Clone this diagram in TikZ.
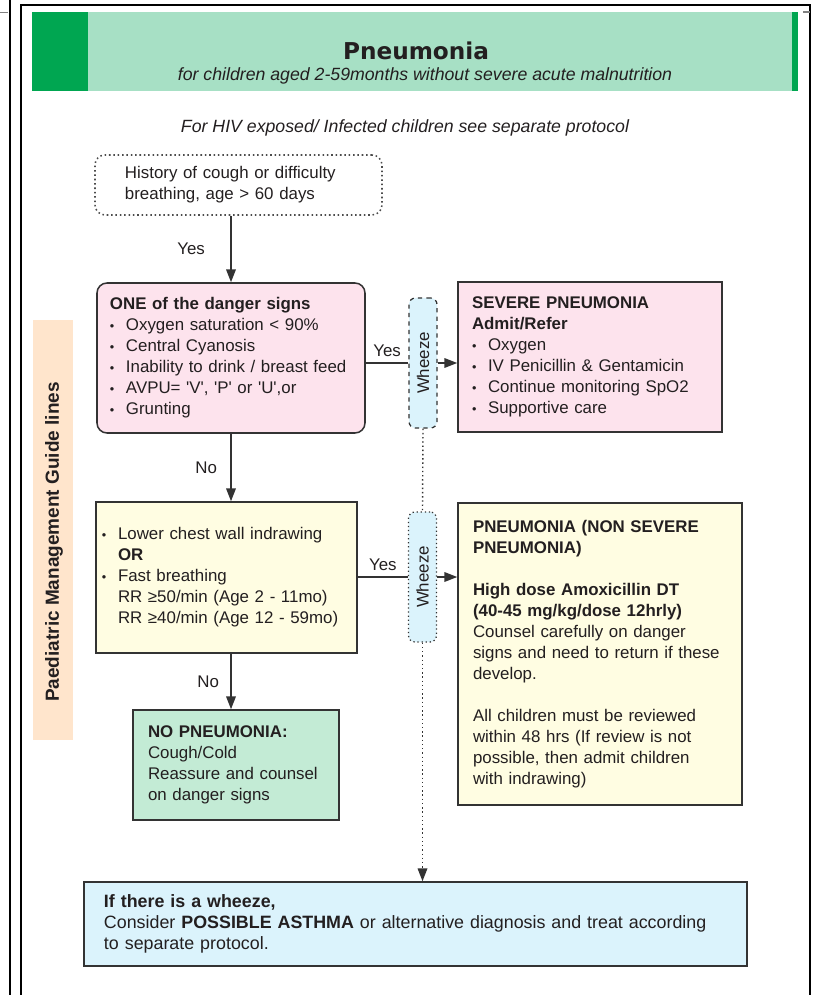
\documentclass[tikz,border=0pt]{standalone}
\usepackage{fontspec}
\setmainfont{Liberation Sans}
\newfontfamily\titlefont{DejaVu Sans}
\usetikzlibrary{arrows.meta}

\definecolor{ink}{HTML}{231F20}
\definecolor{edge}{HTML}{333333}
\definecolor{leafgreen}{HTML}{00A651}
\definecolor{mintband}{HTML}{A7E0C5}
\definecolor{pinkfill}{HTML}{FDE3ED}
\definecolor{creamfill}{HTML}{FFFDE2}
\definecolor{sagefill}{HTML}{C3EBD5}
\definecolor{skyfill}{HTML}{DBF3FC}
\definecolor{peach}{HTML}{FFE5CC}

\newcommand{\bul}{\makebox[4mm][l]{\small\textbullet}}

\begin{document}
\begin{tikzpicture}[x=0.25mm, y=-0.25mm,
    every node/.style = {text=ink, font=\fontsize{12}{14.9}\selectfont},
    panel/.style = {draw=edge, line width=1.1pt, align=left},
    wheeze/.style = {draw=edge, line width=0.9pt, fill=skyfill, rounded corners=1.6mm,
        minimum width=7mm, minimum height=32.5mm, inner sep=0pt},
    flow/.style = {draw=edge, line width=1pt, -{Triangle[length=3.2mm, width=2.4mm]}},
    lbl/.style = {inner sep=1pt}]

    \useasboundingbox (0,0) rectangle (815,995);

    % Page frame
    \draw[line width=0.5mm] (9.5,0) -- (9.5,995);
    \draw[line width=0.35mm] (21,995) -- (21,5) -- (810,5) -- (810,995);
    \draw[gray, line width=0.35mm] (0,12.5) -- (8,12.5);
    \draw[gray, line width=0.35mm] (803,12) -- (810,12);

    % Title band
    \fill[mintband] (32,12) rectangle (798,91);
    \fill[leafgreen] (32,12) rectangle (88,91);
    \fill[leafgreen] (792,12) rectangle (798,91);
    \node[font=\titlefont\bfseries\fontsize{16.5}{19}\selectfont] (title) at (416,51) {Pneumonia};
    \node[font=\itshape\fontsize{12.6}{15}\selectfont] (subtitle) at (425,76)
        {for children aged 2-59months without severe acute malnutrition};
    \node[font=\itshape\fontsize{12.6}{15}\selectfont] (hiv) at (405,128)
        {For HIV exposed/ Infected children see separate protocol};

    % Side band
    \fill[peach] (33,320) rectangle (73,740);
    \node[rotate=90, font=\bfseries\fontsize{13.5}{15}\selectfont] (sideband) at (54,542)
        {Paediatric Management Guide lines};

    % Nodes
    \node[panel, dotted, draw=gray!60!black, rounded corners=2.5mm, text width=56.75mm,
        inner xsep=7.5mm, minimum height=15mm] (cough) at (238.5,185)
        {History of cough or difficulty\\ breathing, age > 60 days};

    \node[panel, fill=pinkfill, rounded corners=2.5mm, text width=60.5mm, inner xsep=3.25mm,
        minimum height=37.5mm] (danger) at (231,358)
        {\textbf{ONE of the danger signs}\\
         \bul Oxygen saturation < 90\%\\
         \bul Central Cyanosis\\
         \bul Inability to drink / breast feed\\
         \bul AVPU= \textquotesingle V\textquotesingle, \textquotesingle P\textquotesingle\ or \textquotesingle U\textquotesingle,or\\
         \bul Grunting};

    \node[panel, fill=pinkfill, text width=59mm, inner xsep=3.5mm, minimum height=37.5mm]
        (severe) at (590,357)
        {\textbf{SEVERE PNEUMONIA}\\
         \textbf{Admit/Refer}\\
         \bul Oxygen\\
         \bul IV Penicillin \& Gentamicin\\
         \bul Continue monitoring SpO2\\
         \bul Supportive care};

    \node[wheeze, dashed] (wheezeA) at (423,363) {\rotatebox{90}{Wheeze}};
    \node[wheeze, dotted] (wheezeB) at (422.5,577) {\rotatebox{90}{Wheeze}};

    \node[panel, fill=creamfill, text width=62.25mm, inner xsep=1.5mm, minimum height=37.75mm]
        (fast) at (226.5,577.5)
        {\bul Lower chest wall indrawing\\
         \hspace*{4mm}\textbf{OR}\\
         \bul Fast breathing\\
         \hspace*{4mm}RR ≥50/min (Age 2 - 11mo)\\
         \hspace*{4mm}RR ≥40/min (Age 12 - 59mo)};

    \node[panel, fill=creamfill, text width=63.5mm, inner xsep=3.75mm, minimum height=75.5mm]
        (nonsevere) at (600,654)
        {\textbf{PNEUMONIA (NON SEVERE}\\
         \textbf{PNEUMONIA)}\\ ~\\
         \textbf{High dose Amoxicillin DT}\\
         \textbf{(40-45 mg/kg/dose 12hrly)}\\
         Counsel carefully on danger\\
         signs and need to return if these\\
         develop.\\ ~\\
         All children must be reviewed\\
         within 48 hrs (If review is not\\
         possible, then admit children\\
         with indrawing)};

    \node[panel, fill=sagefill, text width=44mm, inner xsep=3.75mm, minimum height=27.5mm]
        (nopneu) at (236,765)
        {\textbf{NO PNEUMONIA:}\\
         Cough/Cold\\
         Reassure and counsel\\
         on danger signs};

    \node[panel, fill=skyfill, text width=155.75mm, inner xsep=5mm, minimum height=21mm,
        font=\fontsize{12.7}{15.2}\selectfont] (asthma) at (415.5,924)
        {\textbf{If there is a wheeze,}\\
         Consider \textbf{POSSIBLE ASTHMA} or alternative diagnosis and treat according\\
         to separate protocol.};

    % Edges
    \draw[flow] (danger.north |- cough.south) -- node[lbl, left=6mm] (yesA) {Yes} (danger.north);
    \draw[flow] (danger.south) -- node[lbl, left=3mm] (noA) {No} (danger.south |- fast.north);
    \draw[flow] (fast.south -| danger) -- node[lbl, left=2.5mm] (noB) {No} (nopneu.north -| danger);
    \draw[draw=edge, line width=1pt] (danger.east |- wheezeA) -- node[lbl, above=1mm] (yesB) {Yes} (wheezeA.west);
    \draw[flow] (wheezeA.east) -- (wheezeA -| severe.west);
    \draw[draw=edge, line width=1pt] (fast.east |- wheezeB) -- node[lbl, above=1mm] (yesC) {Yes} (wheezeB.west);
    \draw[flow] (wheezeB.east) -- (wheezeB -| nonsevere.west);
    \draw[draw=edge, line width=1pt, dotted] (wheezeA.south) -- (wheezeB.north);
    \draw[flow, dotted] (wheezeB.south) -- (wheezeB.south |- asthma.north);
\end{tikzpicture}
\end{document}
